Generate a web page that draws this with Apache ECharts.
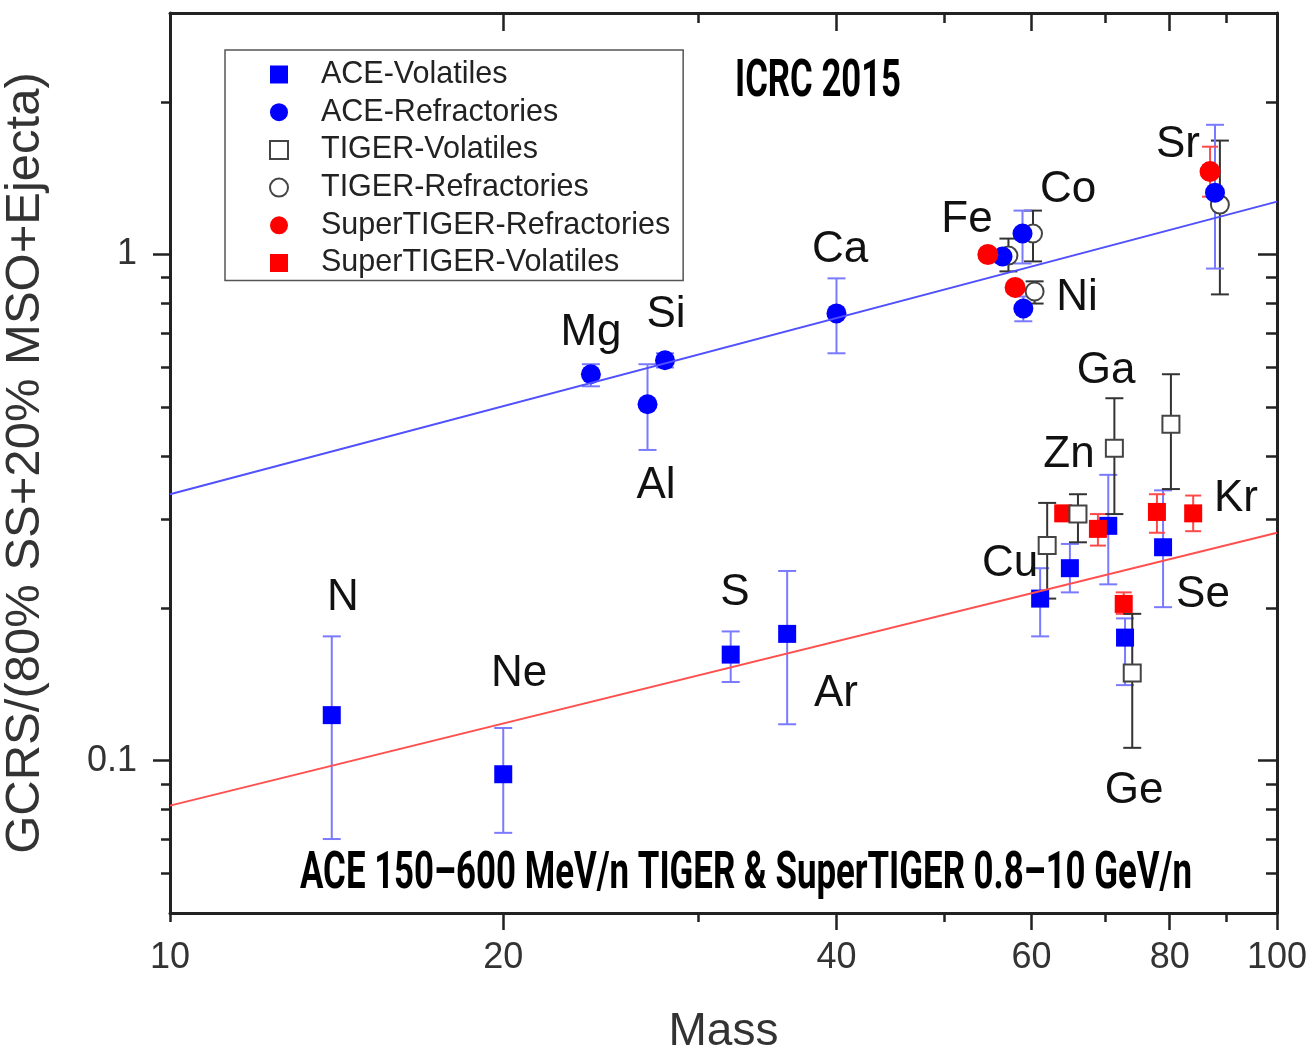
<!DOCTYPE html>
<html>
<head>
<meta charset="utf-8">
<script src="https://cdn.jsdelivr.net/npm/echarts@6/dist/echarts.min.js"></script>
<style>
  html, body { margin: 0; padding: 0; background: #fff; }
  #chart { width: 1316px; height: 1053px; }
</style>
</head>
<body>
<div id="chart"></div>
<script>
// ---------------- data: GCR source abundance ratio vs. mass ----------------
// ACE volatiles
const aceVolElements = ['N', 'Ne', 'S', 'Ar', 'Cu', 'Zn', 'Ga', 'Ge', 'Se'];
const aceVolMass  = [14.0, 20.0, 32.1, 36.1, 61.1, 65.0, 70.4, 72.9, 78.9];
const aceVolRatio = [0.123, 0.094, 0.162, 0.178, 0.209, 0.240, 0.291, 0.175, 0.264];
const aceVolLow   = [0.070, 0.072, 0.143, 0.118, 0.176, 0.215, 0.223, 0.141, 0.201];
const aceVolHigh  = [0.176, 0.116, 0.180, 0.237, 0.240, 0.268, 0.367, 0.191, 0.342];

// ACE refractories
const aceRefElements = ['Mg', 'Al', 'Si', 'Ca', 'Fe', 'Co', 'Ni', 'Sr'];
const aceRefMass  = [24.0, 27.0, 28.0, 40.0, 56.5, 58.9, 59.0, 87.9];
const aceRefRatio = [0.580, 0.506, 0.618, 0.765, 0.991, 1.100, 0.782, 1.325];
const aceRefLow   = [0.549, 0.411, 0.598, 0.638, 0.965, 0.960, 0.738, 0.938];
const aceRefHigh  = [0.607, 0.607, 0.638, 0.897, 1.020, 1.221, 0.826, 1.804];

// TIGER volatiles
const tigerVolElements = ['Cu', 'Zn', 'Ga', 'Ge', 'Se'];
const tigerVolMass  = [62.0, 66.1, 71.3, 74.0, 80.2];
const tigerVolRatio = [0.266, 0.307, 0.414, 0.149, 0.462];
const tigerVolLow   = [0.209, 0.270, 0.307, 0.106, 0.344];
const tigerVolHigh  = [0.323, 0.336, 0.520, 0.195, 0.580];

// TIGER refractories
const tigerRefElements = ['Fe', 'Co', 'Ni', 'Sr'];
const tigerRefMass  = [57.2, 60.2, 60.4, 88.8];
const tigerRefRatio = [0.995, 1.100, 0.845, 1.255];
const tigerRefLow   = [0.926, 0.969, 0.800, 0.834];
const tigerRefHigh  = [1.075, 1.221, 0.885, 1.679];

// SuperTIGER refractories
const superRefElements = ['Fe', 'Ni', 'Sr'];
const superRefMass  = [54.8, 58.0, 87.0];
const superRefRatio = [1.000, 0.861, 1.458];
const superRefLow   = [0.985, 0.850, 1.301];
const superRefHigh  = [1.015, 0.872, 1.633];

// SuperTIGER volatiles
const superVolElements = ['Zn', 'Ga', 'Ge', 'Se', 'Kr'];
const superVolMass  = [64.1, 68.9, 72.7, 77.9, 84.0];
const superVolRatio = [0.308, 0.287, 0.204, 0.310, 0.308];
const superVolLow   = [0.300, 0.266, 0.195, 0.282, 0.284];
const superVolHigh  = [0.317, 0.307, 0.215, 0.336, 0.334];

// power-law fits, given at the two ends of the mass range
const fitMass       = [10, 100];
const fitRefractory = [0.336, 1.272];
const fitVolatile   = [0.0815, 0.282];

// axis ticks and labels
const xLabelValues = [10, 20, 40, 60, 80, 100];
const xMajorTicks  = [20, 40, 60, 80, 100];
const xMinorTicks  = [10, 30, 50, 70, 90];
const yLabelValues = [0.1, 1];
const yMinorTicks  = [0.06, 0.07, 0.08, 0.09, 0.2, 0.3, 0.4, 0.5, 0.6, 0.7, 0.8, 0.9, 2];

// ---------------- layout ----------------
const SANS = '"Liberation Sans", Arial, Helvetica, sans-serif';
const CONDENSED = 'Roboto, "DejaVu Sans Condensed", sans-serif';
const AXIS_COLOR = '#222';
const BLUE = '#0000ff';
const RED = '#ff0000';

// element name annotations (pixel centres)
const elementLabels = [
  ['N', 343, 598], ['Ne', 519, 674], ['Mg', 591, 333], ['Si', 666, 315],
  ['Al', 656, 486], ['S', 735, 593], ['Ar', 836, 694], ['Ca', 840, 250],
  ['Fe', 967, 220], ['Co', 1068, 190], ['Ni', 1077, 298], ['Sr', 1178, 145],
  ['Ga', 1106, 371], ['Zn', 1069, 455], ['Cu', 1010, 564], ['Kr', 1236, 499],
  ['Se', 1203, 595], ['Ge', 1134, 791]
];

// condensed bold captions: [text, left, centreY, width]
const captions = [
  ['ICRC 2015', 735, 83, 166],
  ['ACE 150\u2013600 MeV/n TIGER & SuperTIGER 0.8\u201310 GeV/n', 300, 875, 892]
];
const CAPTION_FONT = 'bold 52px ' + CONDENSED;

// horizontal squeeze so a caption spans its target width
function textWidth(text, font) {
  const ctx = document.createElement('canvas').getContext('2d');
  ctx.font = font;
  return ctx.measureText(text).width;
}

function errorBarSeries(name, mass, low, high, color, width, cap) {
  const data = mass.map((m, i) => [m, low[i], high[i]]);
  return {
    type: 'custom',
    name: name,
    xAxisIndex: 0,
    yAxisIndex: 0,
    silent: true,
    clip: false,
    data: data,
    encode: { x: 0, y: [1, 2] },
    renderItem: function (params, api) {
      const m = api.value(0);
      const top = api.coord([m, api.value(2)]);
      const bot = api.coord([m, api.value(1)]);
      const h = cap / 2;
      const style = { stroke: color, lineWidth: width };
      return {
        type: 'group',
        children: [
          { type: 'line', shape: { x1: top[0], y1: top[1], x2: bot[0], y2: bot[1] }, style: style },
          { type: 'line', shape: { x1: top[0] - h, y1: top[1], x2: top[0] + h, y2: top[1] }, style: style },
          { type: 'line', shape: { x1: bot[0] - h, y1: bot[1], x2: bot[0] + h, y2: bot[1] }, style: style }
        ]
      };
    }
  };
}

function markerSeries(name, elements, mass, ratio, symbol, size, itemStyle) {
  return {
    type: 'scatter',
    name: name,
    xAxisIndex: 0,
    yAxisIndex: 0,
    symbol: symbol,
    symbolSize: size,
    itemStyle: Object.assign({ opacity: 1 }, itemStyle),
    emphasis: { disabled: true },
    data: mass.map((m, i) => ({ name: elements[i], value: [m, ratio[i]] }))
  };
}

function fitSeries(name, values, color) {
  return {
    type: 'line',
    name: name,
    xAxisIndex: 0,
    yAxisIndex: 0,
    showSymbol: false,
    silent: true,
    lineStyle: { color: color, width: 2 },
    data: fitMass.map((m, i) => [m, values[i]])
  };
}

function xAxisLayer(position, ticks, len, inside, showLine, extra) {
  return Object.assign({
    type: 'log', logBase: 10, min: 10, max: 100, gridIndex: 0,
    position: position,
    axisLine: { show: showLine, lineStyle: { color: AXIS_COLOR, width: 3 } },
    axisTick: { show: true, inside: inside, length: len, customValues: ticks,
                lineStyle: { color: AXIS_COLOR, width: 2.5 } },
    axisLabel: { show: false },
    splitLine: { show: false },
    minorTick: { show: false },
    minorSplitLine: { show: false }
  }, extra || {});
}

function yAxisLayer(position, ticks, len, inside, showLine, extra) {
  return Object.assign({
    type: 'log', logBase: 10, min: 0.05, max: 3, gridIndex: 0,
    position: position,
    axisLine: { show: showLine, lineStyle: { color: AXIS_COLOR, width: 3 } },
    axisTick: { show: true, inside: inside, length: len, customValues: ticks,
                lineStyle: { color: AXIS_COLOR, width: 2.5 } },
    axisLabel: { show: false },
    splitLine: { show: false },
    minorTick: { show: false },
    minorSplitLine: { show: false }
  }, extra || {});
}

const NAMES = {
  aceVol: 'ACE-Volatiles',
  aceRef: 'ACE-Refractories',
  tigerVol: 'TIGER-Volatiles',
  tigerRef: 'TIGER-Refractories',
  superRef: 'SuperTIGER-Refractories',
  superVol: 'SuperTIGER-Volatiles'
};

const blueErr = '#7a7aff';
const blackErr = '#333333';
const redErr = '#ff4a4a';
const hollow = { color: '#ffffff', borderColor: '#444444', borderWidth: 2 };

const option = {
  animation: false,
  backgroundColor: '#ffffff',
  grid: { left: 170, right: 39, top: 13, bottom: 140, containLabel: false, outerBoundsMode: 'none' },
  legend: {
    orient: 'vertical',
    left: 225,
    top: 50,
    data: [NAMES.aceVol, NAMES.aceRef, NAMES.tigerVol, NAMES.tigerRef, NAMES.superRef, NAMES.superVol],
    itemWidth: 18,
    itemHeight: 18,
    itemGap: 6.7,
    padding: [9, 13, 2, 44],
    borderColor: '#555',
    borderWidth: 1.5,
    backgroundColor: '#fff',
    selectedMode: false,
    formatter: function (name) { return '{g|}{t|' + name + '}'; },
    textStyle: {
      rich: {
        g: { width: 28 },
        t: { fontSize: 30.5, fontFamily: SANS, color: '#222', lineHeight: 31 }
      }
    }
  },
  xAxis: [
    xAxisLayer('bottom', xMajorTicks, 17, false, true, {
      axisLabel: { show: true, customValues: xLabelValues, margin: 27, fontSize: 36,
                   fontFamily: SANS, color: '#333' },
      name: 'Mass', nameLocation: 'middle', nameGap: 96,
      nameTextStyle: { fontSize: 46, fontFamily: SANS, color: '#333' }
    }),
    xAxisLayer('bottom', xMinorTicks, 9, false, false),
    xAxisLayer('top', [20, 40, 60, 80], 18, true, true),
    xAxisLayer('top', [30, 50, 70, 90], 10, true, false)
  ],
  yAxis: [
    yAxisLayer('left', yLabelValues, 17, false, true, {
      axisLabel: { show: true, customValues: yLabelValues, margin: 33, fontSize: 36,
                   fontFamily: SANS, color: '#333' },
      name: 'GCRS/(80% SS+20% MSO+Ejecta)', nameLocation: 'middle', nameGap: 120,
      nameTextStyle: { fontSize: 49, fontFamily: SANS, color: '#333' }
    }),
    yAxisLayer('left', yMinorTicks, 9, false, false),
    yAxisLayer('right', yLabelValues, 19, true, true),
    yAxisLayer('right', yMinorTicks, 11, true, false)
  ],
  series: [
    fitSeries('Refractory fit', fitRefractory, '#5050ff'),
    fitSeries('Volatile fit', fitVolatile, '#ff5050'),

    errorBarSeries('TIGER-Refractories errors', tigerRefMass, tigerRefLow, tigerRefHigh, blackErr, 2, 18),
    markerSeries(NAMES.tigerRef, tigerRefElements, tigerRefMass, tigerRefRatio, 'circle', 18, hollow),

    errorBarSeries('ACE-Volatiles errors', aceVolMass, aceVolLow, aceVolHigh, blueErr, 2, 18),
    markerSeries(NAMES.aceVol, aceVolElements, aceVolMass, aceVolRatio, 'rect', 18, { color: BLUE }),

    errorBarSeries('ACE-Refractories errors', aceRefMass, aceRefLow, aceRefHigh, blueErr, 2, 18),
    markerSeries(NAMES.aceRef, aceRefElements, aceRefMass, aceRefRatio, 'circle', 20, { color: BLUE }),

    errorBarSeries('SuperTIGER-Refractories errors', superRefMass, superRefLow, superRefHigh, redErr, 2, 16),
    markerSeries(NAMES.superRef, superRefElements, superRefMass, superRefRatio, 'circle', 21, { color: RED }),

    errorBarSeries('SuperTIGER-Volatiles errors', superVolMass, superVolLow, superVolHigh, redErr, 2, 16),
    markerSeries(NAMES.superVol, superVolElements, superVolMass, superVolRatio, 'rect', 18, { color: RED }),

    errorBarSeries('TIGER-Volatiles errors', tigerVolMass, tigerVolLow, tigerVolHigh, blackErr, 2, 18),
    markerSeries(NAMES.tigerVol, tigerVolElements, tigerVolMass, tigerVolRatio, 'rect', 17, hollow)
  ],
  graphic: elementLabels.map(function (d) {
    return {
      type: 'text', x: d[1], y: d[2], z: 20, silent: true,
      style: { text: d[0], font: '44px ' + SANS, fill: '#111', align: 'center', verticalAlign: 'middle' }
    };
  }).concat(captions.map(function (c) {
    const sx = c[3] / textWidth(c[0], CAPTION_FONT);
    return {
      type: 'text', x: c[1], y: c[2], scaleX: sx, z: 20, silent: true,
      style: { text: c[0], font: CAPTION_FONT, fill: '#000', align: 'left', verticalAlign: 'middle' }
    };
  }))
};

const chart = echarts.init(document.getElementById('chart'), null, { renderer: 'canvas' });
chart.setOption(option);
</script>
</body>
</html>
